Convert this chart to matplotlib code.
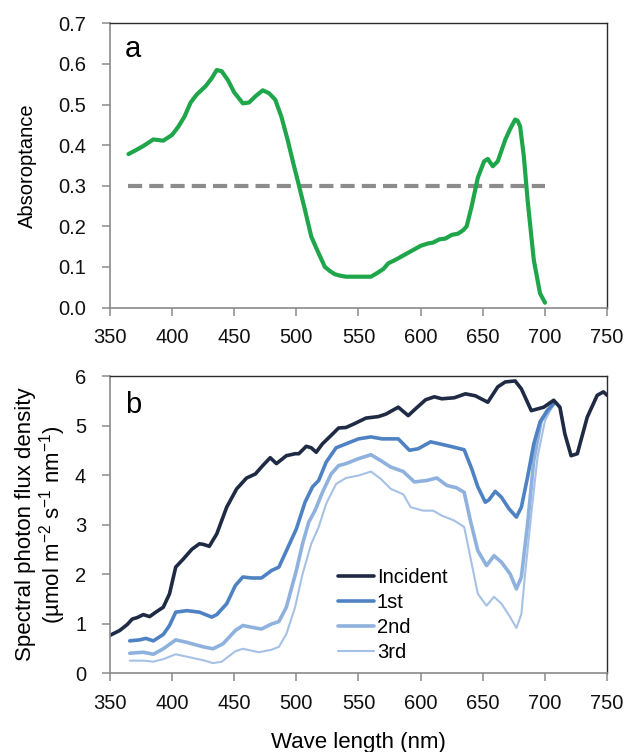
import numpy as np
import matplotlib
matplotlib.use("Agg")
import matplotlib.pyplot as plt

plt.rcParams['font.family'] = ['Liberation Sans', 'DejaVu Sans']
plt.rcParams['mathtext.default'] = 'regular'

# absorptance spectrum (panel a)
wl_abs = [365, 370, 377, 385, 393, 400, 405, 410, 415, 420, 427, 432, 436, 440, 445,
          450, 457, 462, 467, 473, 478, 483, 488, 493, 498, 502, 507, 512, 517, 523,
          527, 531, 536, 540, 550, 560, 565, 570, 574, 580, 590, 600, 606, 610, 615,
          620, 625, 630, 634, 637, 641, 646, 651, 654, 658, 662, 668, 672, 676, 678,
          680, 683, 686, 691, 696, 700]
absorptance = [0.378, 0.386, 0.398, 0.414, 0.411, 0.425, 0.445, 0.47, 0.505, 0.525,
               0.545, 0.565, 0.585, 0.582, 0.56, 0.53, 0.503, 0.505, 0.52, 0.535,
               0.528, 0.512, 0.47, 0.413, 0.35, 0.302, 0.24, 0.175, 0.14, 0.1,
               0.09, 0.082, 0.078, 0.076, 0.076, 0.076, 0.085, 0.095, 0.109, 0.118,
               0.135, 0.152, 0.158, 0.16, 0.168, 0.17, 0.179, 0.182, 0.19, 0.2,
               0.249, 0.32, 0.36, 0.366, 0.348, 0.36, 0.413, 0.44, 0.463, 0.46,
               0.446, 0.372, 0.265, 0.117, 0.035, 0.012]
threshold_wl = [365, 700]
threshold = 0.3

# spectral photon flux density (panel b)
wl_inc = [350, 358, 364, 368, 372, 377, 382, 387, 393, 398, 403, 409, 416, 422, 425,
          430, 436, 444, 452, 460, 467, 473, 479, 484, 492, 499, 502, 508, 512, 516,
          521, 528, 534, 540, 547, 556, 566, 572, 582, 590, 596, 604, 611, 617, 627,
          636, 644, 654, 662, 668, 676, 681, 689, 699, 707, 712, 716, 721, 726, 734,
          742, 747, 750]
incident = [0.76, 0.86, 0.98, 1.09, 1.12, 1.18, 1.14, 1.23, 1.33, 1.6, 2.14, 2.3, 2.5, 2.61, 2.6,
            2.56, 2.81, 3.35, 3.72, 3.94, 4.02, 4.19, 4.35, 4.23, 4.39, 4.43, 4.43, 4.58, 4.55, 4.46,
            4.63, 4.8, 4.95, 4.96, 5.04, 5.15, 5.18, 5.23, 5.37, 5.2, 5.34, 5.52, 5.58, 5.54, 5.56,
            5.64, 5.6, 5.47, 5.78, 5.88, 5.9, 5.74, 5.3, 5.37, 5.51, 5.37, 4.83, 4.39, 4.43, 5.17,
            5.61, 5.68, 5.61]

wl_1st = [366, 374, 379, 385, 393, 398, 403, 412, 422, 432, 436, 444, 451, 457, 464,
          472, 480, 486, 492, 500, 507, 513, 518, 524, 532, 540, 550, 560, 569, 582,
          591, 598, 608, 617, 627, 635, 641, 646, 652, 655, 660, 665, 671, 677, 681,
          686, 691, 696, 702, 707]
first = [0.65, 0.67, 0.70, 0.65, 0.78, 0.96, 1.23, 1.26, 1.23, 1.13, 1.18, 1.4, 1.77, 1.94, 1.92,
         1.92, 2.07, 2.14, 2.47, 2.91, 3.45, 3.76, 3.89, 4.26, 4.55, 4.63, 4.73, 4.77, 4.73, 4.73,
         4.5, 4.53, 4.67, 4.62, 4.56, 4.51, 4.13, 3.76, 3.45, 3.5, 3.67, 3.55, 3.32, 3.15, 3.35,
         3.96, 4.63, 5.07, 5.31, 5.44]

wl_2nd = [366, 377, 385, 393, 403, 412, 425, 433, 441, 451, 457, 467, 472, 480, 486,
          492, 500, 505, 510, 515, 521, 528, 534, 540, 550, 560, 568, 576, 586, 595,
          605, 613, 621, 629, 635, 640, 646, 653, 659, 665, 672, 677, 681, 686, 691,
          697, 707]
second = [0.40, 0.42, 0.38, 0.49, 0.67, 0.62, 0.53, 0.49, 0.59, 0.86, 0.96, 0.91, 0.89, 0.99, 1.04,
          1.33, 2.07, 2.61, 3.05, 3.28, 3.65, 4.02, 4.19, 4.23, 4.33, 4.41, 4.29, 4.16, 4.07, 3.86,
          3.89, 3.94, 3.79, 3.74, 3.65, 3.08, 2.47, 2.17, 2.37, 2.24, 2.0, 1.7, 1.94, 3.01, 4.3,
          5.1, 5.44]

wl_3rd = [366, 377, 385, 393, 403, 412, 425, 433, 440, 451, 457, 470, 480, 486, 492,
          499, 505, 512, 518, 524, 532, 540, 550, 560, 568, 576, 586, 592, 602, 610,
          617, 627, 635, 640, 646, 653, 659, 665, 672, 677, 681, 684, 689, 694, 700,
          707]
third = [0.25, 0.25, 0.23, 0.28, 0.38, 0.33, 0.26, 0.20, 0.23, 0.44, 0.49, 0.42, 0.47, 0.53, 0.79,
         1.33, 2.0, 2.61, 2.95, 3.42, 3.82, 3.94, 3.99, 4.07, 3.92, 3.72, 3.61, 3.35, 3.28, 3.28,
         3.18, 3.08, 2.95, 2.34, 1.6, 1.36, 1.54, 1.4, 1.13, 0.91, 1.19, 2.0, 3.22, 4.36, 5.1,
         5.44]

series_labels = ['Incident', '1st', '2nd', '3rd']
series_colors = ['#1f2a44', '#4f82c3', '#8eb1dd', '#a6c1e6']
series_widths = [2.6, 2.6, 2.6, 1.5]

FS = 14.5


def style_axes(ax):
    for side in ['left', 'bottom']:
        ax.spines[side].set_color('#8a8a8a')
        ax.spines[side].set_linewidth(1.2)
    for side in ['top', 'right']:
        ax.spines[side].set_color('#2b2b2b')
        ax.spines[side].set_linewidth(1.0)
    ax.tick_params(axis='both', direction='out', length=6, width=1.1, color='#8a8a8a',
                   labelsize=FS, labelcolor='#111111')
    ax.tick_params(axis='y', pad=11)
    ax.tick_params(axis='x', pad=9)


fig = plt.figure(figsize=(6.24, 7.52), dpi=100)

# panel a
ax1 = fig.add_axes([0.176, 0.591, 0.797, 0.378])
ax1.plot(threshold_wl, [threshold, threshold], color='#8c8c8c', lw=3,
         dashes=(3.4, 1.7), dash_capstyle='butt')
ax1.plot(wl_abs, absorptance, color='#1fa64a', lw=3, solid_joinstyle='round',
         solid_capstyle='round')
ax1.set_xlim(350, 750)
ax1.set_ylim(0, 0.7)
ax1.set_xticks(np.arange(350, 751, 50))
ax1.set_yticks(np.arange(0, 0.71, 0.1))
ax1.yaxis.set_major_formatter(matplotlib.ticker.FormatStrFormatter('%.1f'))
ax1.set_ylabel('Absoroptance', fontsize=FS, labelpad=15)
ax1.text(0.03, 0.88, 'a', transform=ax1.transAxes, fontsize=21)
style_axes(ax1)

# panel b
ax2 = fig.add_axes([0.176, 0.105, 0.797, 0.395])
xs = [wl_inc, wl_1st, wl_2nd, wl_3rd]
ys = [incident, first, second, third]
for i in range(3, -1, -1):
    ax2.plot(xs[i], ys[i], color=series_colors[i], lw=series_widths[i],
             label=series_labels[i], solid_joinstyle='round', solid_capstyle='round')
ax2.set_xlim(350, 750)
ax2.set_ylim(0, 6)
ax2.set_xticks(np.arange(350, 751, 50))
ax2.set_yticks(np.arange(0, 7, 1))
ax2.set_ylabel('Spectral photon flux density\n(µmol m$^{-2}$ s$^{-1}$ nm$^{-1}$)',
               fontsize=16, labelpad=5, linespacing=1.05)
ax2.set_xlabel('Wave length (nm)', fontsize=16, labelpad=14)
ax2.text(0.03, 0.875, 'b', transform=ax2.transAxes, fontsize=21)
style_axes(ax2)

handles, labels = ax2.get_legend_handles_labels()
leg = ax2.legend(handles[::-1], labels[::-1], loc='lower left', bbox_to_anchor=(0.458, 0.036),
                 frameon=False, fontsize=FS, handlelength=1.8, handletextpad=0.15,
                 labelspacing=0.3, borderpad=0, borderaxespad=0)

fig.savefig('out.png', dpi=100)
